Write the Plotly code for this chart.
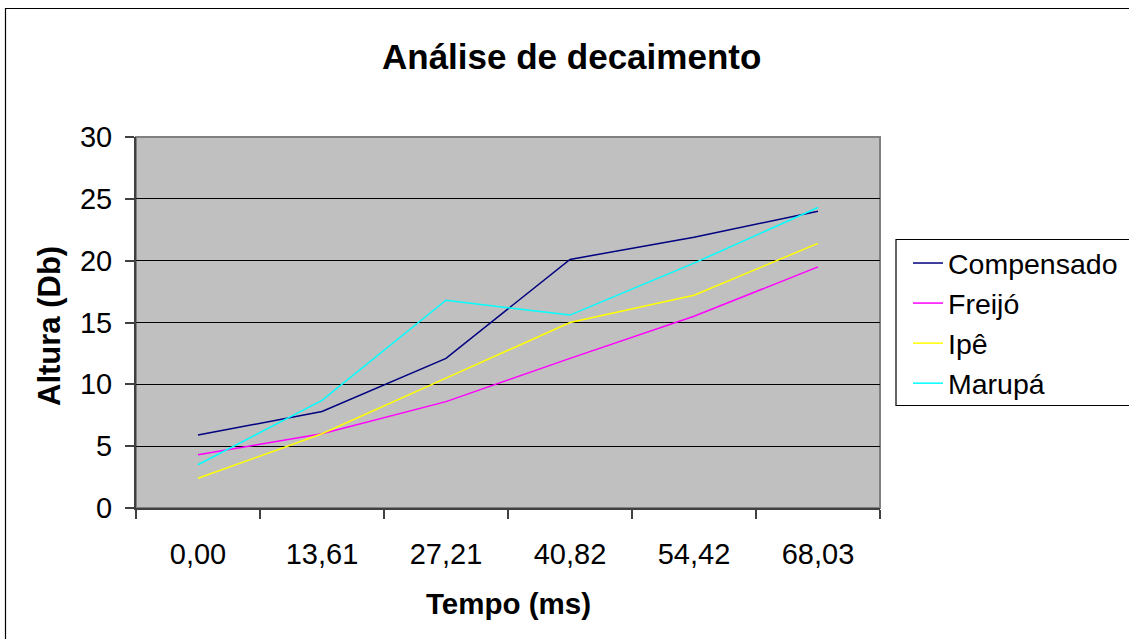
import plotly.graph_objects as go

categories = ["0,00", "13,61", "27,21", "40,82", "54,42", "68,03"]
compensado = [5.9, 7.8, 12.1, 20.1, 21.9, 24.0]
freijo = [4.3, 6.0, 8.6, 12.1, 15.5, 19.5]
ipe = [2.4, 6.0, 10.5, 15.0, 17.2, 21.4]
marupa = [3.5, 8.7, 16.8, 15.6, 19.8, 24.3]

series = [
    ("Compensado", compensado, "#000080"),
    ("Freijó", freijo, "#FF00FF"),
    ("Ipê", ipe, "#FFFF00"),
    ("Marupá", marupa, "#00FFFF"),
]

W, H = 1129, 639
L, R, T, B = 136, 249, 137, 131
PW, PH = W - L - R, H - T - B
FONT = "Liberation Sans, Arial, sans-serif"


def px_x(p):
    return (p - L) / PW


def px_y(p):
    return (H - B - p) / PH


fig = go.Figure()
for name, vals, col in series:
    fig.add_trace(go.Scatter(x=categories, y=vals, mode="lines", name=name,
                             line=dict(color=col, width=1.5)))

fig.update_layout(
    width=W, height=H,
    margin=dict(l=L, r=R, t=T, b=B, pad=0, autoexpand=False),
    paper_bgcolor="white",
    plot_bgcolor="#C0C0C0",
    font=dict(family=FONT, color="black", size=28),
    showlegend=True,
    legend=dict(x=px_x(908), y=px_y(238), xanchor="left", yanchor="top",
                xref="paper", yref="paper",
                bgcolor="rgba(0,0,0,0)", borderwidth=0,
                font=dict(family=FONT, size=28.5, color="black"),
                itemwidth=30, tracegroupgap=0),
    xaxis=dict(type="category", range=[-0.5, 5.5], tickson="boundaries",
               ticks="outside", ticklen=9, tickwidth=1.5, tickcolor="#404040",
               showline=True, linecolor="#404040", linewidth=2,
               showgrid=False, zeroline=False, automargin=False,
               ticklabelstandoff=19,
               tickfont=dict(family=FONT, size=29, color="black")),
    yaxis=dict(range=[0, 30], dtick=5, tick0=0,
               ticks="outside", ticklen=9, tickwidth=1.5, tickcolor="#404040",
               showline=True, linecolor="#404040", linewidth=2,
               showgrid=True, gridcolor="black", gridwidth=1,
               zeroline=False, ticklabelstandoff=7, automargin=False,
               tickfont=dict(family=FONT, size=29, color="black")),
    shapes=[
        # plot area border (top/right grey)
        dict(type="rect", xref="paper", yref="paper", x0=0, x1=1, y0=0, y1=1,
             line=dict(color="#808080", width=2), layer="below"),
        # chart area border (extends beyond canvas)
        dict(type="rect", xref="paper", yref="paper",
             x0=px_x(5.5), x1=px_x(W + 20), y0=px_y(H + 20), y1=px_y(8.5),
             line=dict(color="black", width=1.2)),
        # legend box
        dict(type="rect", xref="paper", yref="paper",
             x0=px_x(896), x1=px_x(W + 20), y0=px_y(405.5), y1=px_y(239.5),
             line=dict(color="black", width=1.2)),
    ],
    annotations=[
        dict(text="<b>Análise de decaimento</b>", xref="paper", yref="paper",
             x=px_x(571.5), y=px_y(56), xanchor="center", yanchor="middle",
             showarrow=False, font=dict(family=FONT, size=35, color="black")),
        dict(text="<b>Tempo (ms)</b>", xref="paper", yref="paper",
             x=px_x(508.5), y=px_y(603), xanchor="center", yanchor="middle",
             showarrow=False, font=dict(family=FONT, size=29.5, color="black")),
        dict(text="<b>Altura (Db)</b>", xref="paper", yref="paper",
             x=px_x(49), y=px_y(326), xanchor="center", yanchor="middle",
             textangle=-90,
             showarrow=False, font=dict(family=FONT, size=31, color="black")),
    ],
)

fig.write_html("out.html")
